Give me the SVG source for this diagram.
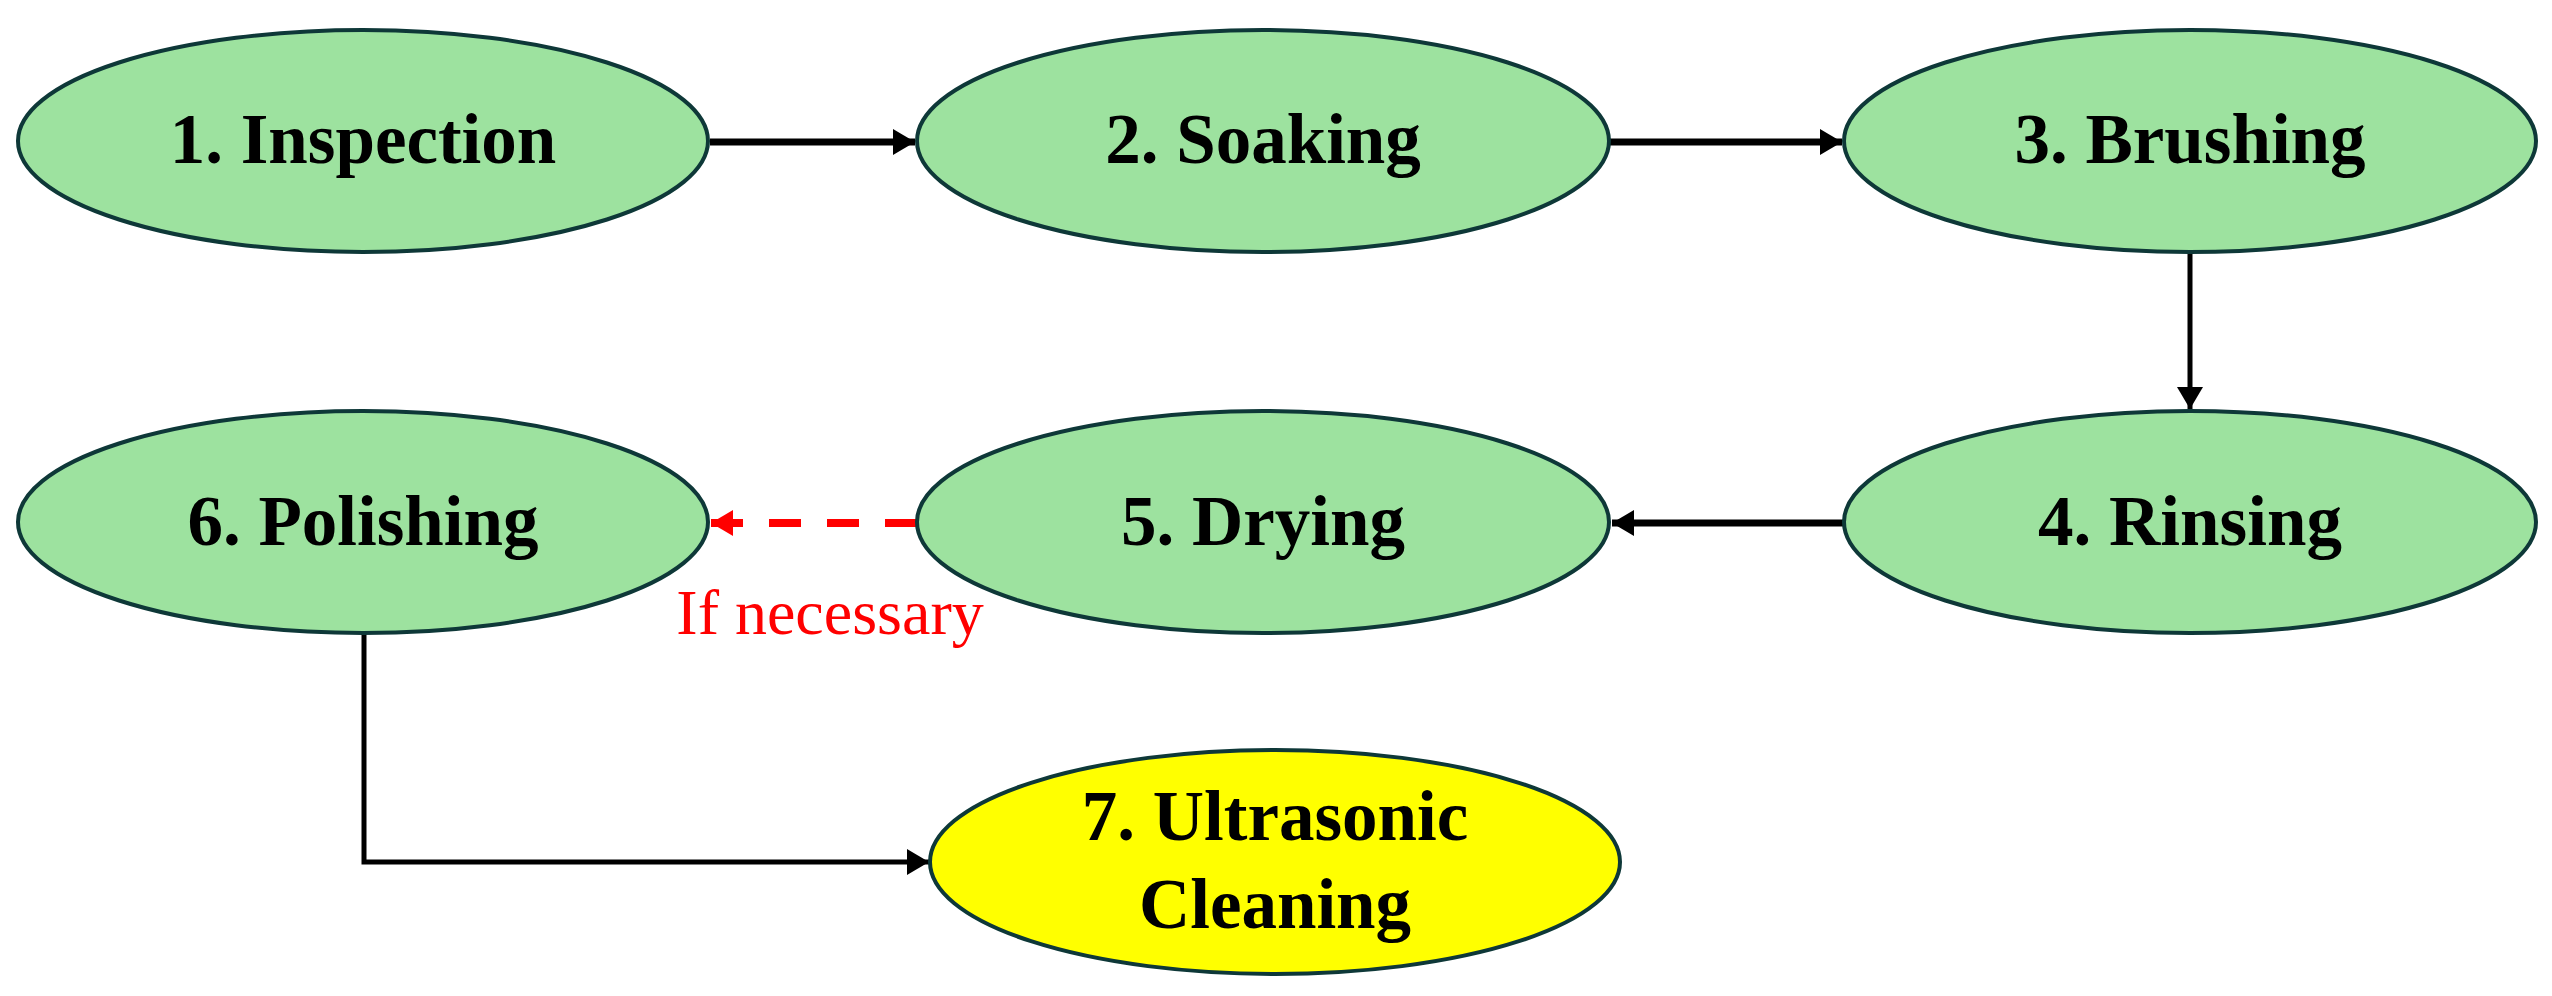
<svg xmlns="http://www.w3.org/2000/svg" width="2552" height="996" viewBox="0 0 2552 996">
<style>
.node{fill:#9de29f;stroke:#0e3838;stroke-width:4}
.final{fill:#ffff00;stroke:#0e3838;stroke-width:4}
.lbl{font-family:"Liberation Serif","Times New Roman",serif;font-weight:bold;font-size:71px;fill:#000;text-anchor:middle}
.conn{fill:none;stroke:#000;stroke-width:7}
.thin{fill:none;stroke:#000;stroke-width:5}
.dash{fill:none;stroke:#ff0000;stroke-width:8;stroke-dasharray:32 26}
.note{font-family:"Liberation Serif","Times New Roman",serif;font-size:64px;fill:#ff0000;text-anchor:middle}
</style>
<defs>
<marker id="ah" markerUnits="userSpaceOnUse" markerWidth="24" markerHeight="26" refX="22" refY="13" orient="auto">
<path d="M0,0 L22,13 L0,26 Z" fill="#000"/>
</marker>
<marker id="ahr" markerUnits="userSpaceOnUse" markerWidth="24" markerHeight="26" refX="22" refY="13" orient="auto">
<path d="M0,0 L22,13 L0,26 Z" fill="#ff0000"/>
</marker>
</defs>
<rect width="2552" height="996" fill="#ffffff"/>
<g id="connectors">
<line class="conn" x1="710" y1="142" x2="915" y2="142" marker-end="url(#ah)"/>
<line class="conn" x1="1609" y1="142" x2="1842" y2="142" marker-end="url(#ah)"/>
<line class="thin" x1="2190" y1="252" x2="2190" y2="409" marker-end="url(#ah)"/>
<line class="conn" x1="1844" y1="523" x2="1612" y2="523" marker-end="url(#ah)"/>
<line class="dash" x1="917" y1="523" x2="711" y2="523" marker-end="url(#ahr)"/>
<polyline class="thin" points="364,633 364,862 929,862" marker-end="url(#ah)"/>
<text class="note" x="830" y="634">If necessary</text>
</g>
<g id="n1"><ellipse class="node" cx="363" cy="141" rx="345" ry="111"/><text class="lbl" x="363" y="163">1. Inspection</text></g>
<g id="n2"><ellipse class="node" cx="1263" cy="141" rx="346" ry="111"/><text class="lbl" x="1263" y="163">2. Soaking</text></g>
<g id="n3"><ellipse class="node" cx="2190" cy="141" rx="346" ry="111"/><text class="lbl" x="2190" y="163">3. Brushing</text></g>
<g id="n4"><ellipse class="node" cx="2190" cy="522" rx="346" ry="111"/><text class="lbl" x="2190" y="545">4. Rinsing</text></g>
<g id="n5"><ellipse class="node" cx="1263" cy="522" rx="346" ry="111"/><text class="lbl" x="1263" y="545">5. Drying</text></g>
<g id="n6"><ellipse class="node" cx="363" cy="522" rx="345" ry="111"/><text class="lbl" x="363" y="545">6. Polishing</text></g>
<g id="n7"><ellipse class="final" cx="1275" cy="862" rx="345" ry="112"/><text class="lbl" x="1275" y="840">7. Ultrasonic</text><text class="lbl" x="1275" y="928">Cleaning</text></g>
</svg>
